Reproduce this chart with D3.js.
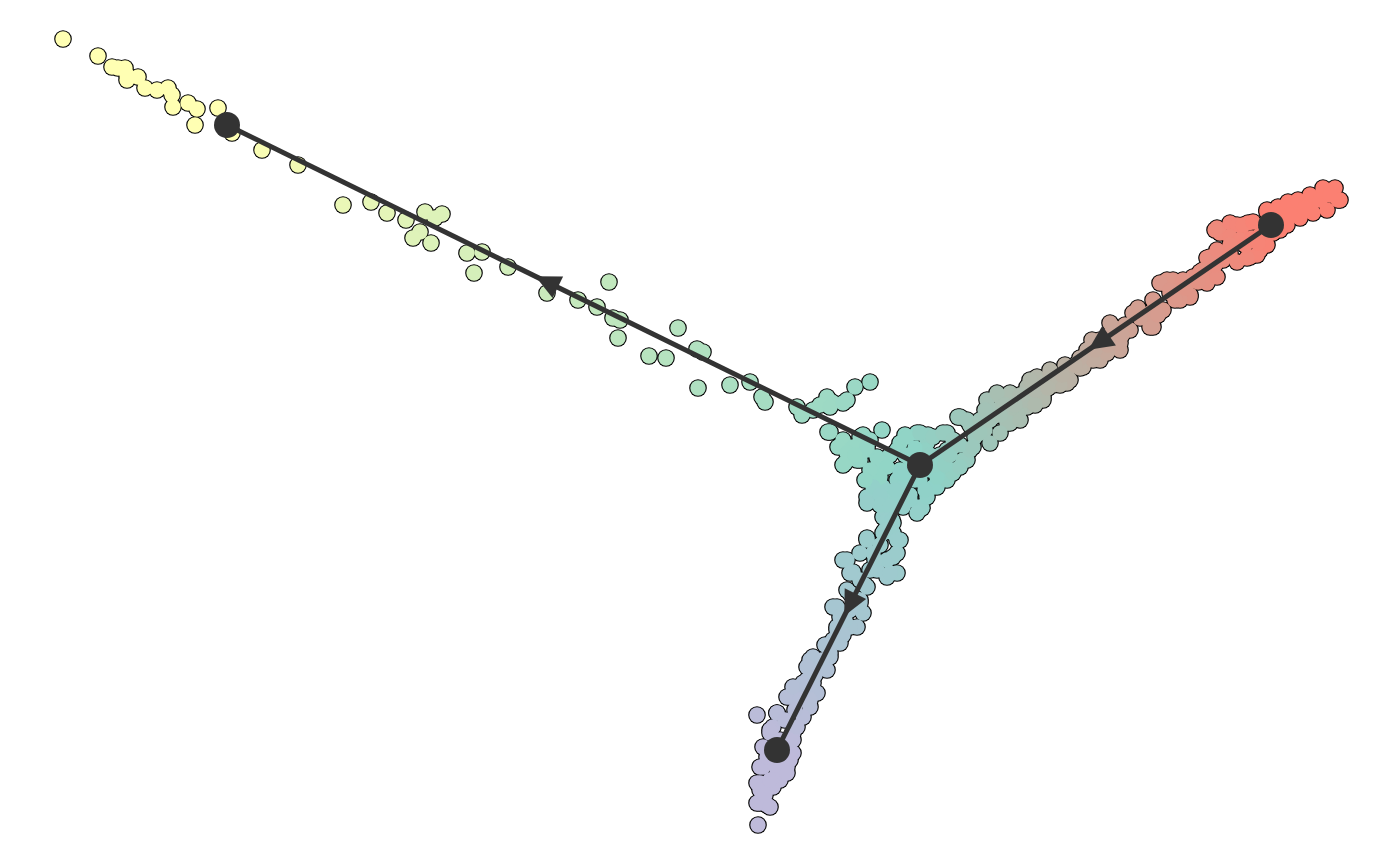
<!DOCTYPE html>
<head>
  <meta charset="utf-8">
  <script src="https://d3js.org/d3.v7.min.js"></script>
  <style>
    body { margin:0; background:#fff; }
  </style>
</head>
<body>
<script>

  var width = 1400;
  var height = 866;

  // cells in reduced space (comp_1, comp_2)
  var cells = [
    [0.63,8.27],[0.98,8.10],[1.12,7.99],[1.18,7.98],[1.25,7.98],[1.27,7.91],[1.38,7.89],[1.27,7.86],
    [1.45,7.78],[1.57,7.76],[1.68,7.78],[1.72,7.71],[1.73,7.59],[1.88,7.63],[1.97,7.57],[1.95,7.41],
    [2.18,7.58],[2.32,7.33],[2.62,7.16],[2.98,7.01],[3.43,6.61],[3.71,6.64],[3.87,6.53],[4.06,6.46],
    [4.25,6.54],[4.42,6.52],[4.35,6.48],[4.20,6.34],[4.13,6.28],[4.31,6.23],[4.67,6.13],[4.82,6.14],
    [4.74,5.93],[5.08,5.99],[6.09,5.84],[5.47,5.73],[5.78,5.66],[5.97,5.59],[6.13,5.48],[6.20,5.46],
    [6.18,5.28],[6.78,5.38],[6.49,5.10],[6.66,5.08],[6.97,5.17],[7.03,5.14],[6.98,4.78],[7.30,4.81],
    [7.50,4.84],[7.62,4.69],[7.65,4.64],[7.97,4.59],[8.02,4.51],[8.13,4.56],[8.27,4.69],[8.32,4.64],
    [8.47,4.66],[8.55,4.79],[8.70,4.84],[8.20,4.61],[8.28,4.34],[8.82,4.36],[8.63,4.31],
    [8.30,4.59],[8.43,4.63],[8.30,4.34],[8.43,4.26],[8.60,4.29],
    // around the branching point
    [8.43,4.01],[8.57,4.06],[8.38,4.19],[8.53,4.19],[8.67,4.16],[9.05,4.31],[9.17,4.33],[9.28,4.31],
    [9.27,4.23],[9.00,4.23],[8.97,4.16],[9.47,4.33],[9.53,4.19],[9.58,4.49],[9.70,4.41],[8.77,4.09],
    [8.82,3.99],[8.75,3.89],[8.83,3.79],[8.67,3.69],[8.97,3.86],[9.03,3.73],[9.33,3.79],[9.40,3.89],
    [9.53,3.96],[9.63,4.06],[9.22,3.58],[8.90,3.56],[8.85,3.49],[8.67,3.28],[8.93,3.33],[9.10,4.06],
    [9.30,3.96],[9.00,3.96],[9.15,3.86],[8.90,4.11],[9.40,4.11],[9.10,3.71],[9.25,4.16],
    [8.67,4.19],[8.47,4.13],[8.45,4.03],[8.60,4.06],[8.78,4.06],[9.07,4.29],[9.20,4.33],[9.33,4.29],
    [9.43,4.33],[9.53,4.26],[9.47,4.16],[9.60,4.49],[9.70,4.43],[9.80,4.36],[9.87,4.46],[9.93,4.56],
    [8.87,3.99],[8.80,3.89],[8.73,3.79],[8.87,3.69],[8.97,3.66],[8.83,3.49],[9.20,3.59],[9.27,3.69],
    [9.37,3.79],[9.47,3.86],[9.53,3.93],[9.37,3.89],[9.20,3.86],[9.03,3.79],[9.00,3.93],[9.67,4.06],
    [9.70,4.16],[9.60,3.99],
    [9.05,4.11],[9.15,4.18],[9.30,4.11],[9.35,4.01],[9.45,4.01],[9.05,3.91],[9.25,3.76],[9.10,3.66],
    [8.95,3.76],[8.80,3.71],[8.80,3.61],[9.15,3.96],[9.50,4.11],[9.60,4.21],[9.75,4.29],[9.85,4.36],
    [8.70,3.96],[8.65,3.86],[8.70,4.26],[8.55,4.11],
    // towards the start
    [9.87,4.66],[10.00,4.69],[10.07,4.56],[9.93,4.49],[9.80,4.33],[9.73,4.19],[9.90,4.23],[10.07,4.43],
    [10.17,4.49],[10.27,4.59],[10.33,4.73],[10.37,4.83],[10.53,4.81],[10.67,4.83],[10.20,4.56],[10.07,4.69],
    [10.27,4.66],[10.43,4.69],[10.37,4.89],[10.60,4.86],[10.50,4.96],[10.67,4.96],[10.83,4.99],[11.00,5.06],
    [10.87,5.16],[11.03,5.16],[11.20,5.16],[11.17,5.29],[11.10,5.43],[11.33,5.53],[11.50,5.39],[11.53,5.49],
    [11.63,5.56],[11.53,5.66],[11.63,5.83],[11.73,5.86],[11.87,5.83],[11.90,5.69],[12.00,5.89],[12.10,5.96],
    [12.07,6.08],[12.20,6.13],[12.37,6.04],[12.50,6.09],[12.60,6.16],[12.43,6.29],[12.17,6.38],[12.20,6.33],
    [12.30,6.43],[12.37,6.41],[12.48,6.43],[12.67,6.56],[12.83,6.46],[12.87,6.56],[12.97,6.63],[13.10,6.59],
    [13.20,6.69],[13.33,6.76],[13.40,6.66],[12.72,6.41],[13.00,6.54],[11.80,5.76],
    [12.15,6.36],[12.43,6.41],[12.53,6.44],[12.67,6.54],[12.78,6.59],[12.88,6.64],[12.98,6.66],[13.10,6.71],
    [13.23,6.78],[13.35,6.78],[13.38,6.66],[13.27,6.56],[13.13,6.53],[13.00,6.48],[12.87,6.41],[12.73,6.33],
    [12.30,6.29],[12.40,6.26],[12.67,6.21],[12.57,6.11],[12.47,6.08],[12.23,6.06],[12.10,6.09],[12.17,6.16],
    [12.30,6.13],[11.93,5.89],[11.83,5.86],[11.67,5.86],[11.60,5.83],[11.70,5.73],[11.90,5.71],[12.07,5.83],
    [12.17,5.89],[12.03,5.96],
    [11.50,5.53],[11.53,5.39],[11.13,5.39],[11.20,5.23],[11.07,5.13],[10.93,5.06],[11.00,5.26],[10.67,4.93],
    [10.70,4.86],[10.50,4.93],[10.37,4.86],[10.27,4.79],[10.40,4.73],[10.43,4.66],[10.23,4.66],[10.10,4.73],
    [9.97,4.73],[10.03,4.59],[10.17,4.53],[10.10,4.43],[10.00,4.33],[9.67,4.46],[9.80,4.46],
    [10.60,4.81],[10.80,4.98],[11.30,5.36],[11.80,5.66],[12.30,6.21],[10.35,4.61],[10.20,4.46],
    [9.90,4.46],[9.85,4.56],[10.05,4.61],[10.00,4.51],[10.20,4.71],[10.15,4.61],[10.35,4.76],[10.30,4.86],
    [10.50,4.86],[10.48,4.78],[10.65,5.01],[10.62,4.91],[10.80,5.08],[10.75,5.01],[10.95,5.16],[10.92,5.26],
    [11.10,5.31],[11.08,5.21],[11.25,5.41],[11.22,5.31],[11.40,5.48],[11.38,5.58],[11.55,5.61],[11.58,5.51],
    [11.70,5.76],[11.75,5.66],[11.85,5.78],[12.00,5.94],[11.98,5.84],[12.15,6.01],[12.45,6.21],[12.52,6.28],
    [12.60,6.31],[12.58,6.23],[12.90,6.51],[13.05,6.58],[13.20,6.66],[13.30,6.71],[12.80,6.36],
    // lower branch
    [8.67,3.63],[8.90,3.59],[9.03,3.59],[9.17,3.53],[8.87,3.46],[8.97,3.26],[8.93,3.09],[8.97,2.93],
    [8.87,2.89],[8.67,3.26],[8.73,3.13],[8.43,3.06],[8.53,2.94],[8.60,2.86],[8.47,2.76],[8.33,2.59],
    [8.60,2.66],[8.63,2.53],[8.57,2.39],[8.37,2.36],[8.40,2.23],[8.30,2.09],[8.10,2.06],[8.27,1.96],
    [8.07,1.86],[8.00,1.79],[8.17,1.73],[7.90,1.69],[8.10,1.59],[7.77,1.53],[7.57,1.51],[7.73,1.39],
    [7.93,1.33],[7.70,1.33],[7.63,1.19],[7.93,1.13],[7.77,1.09],[7.87,0.99],[7.60,0.99],[7.80,0.86],
    [7.60,0.83],[7.57,0.63],[7.67,0.61],[7.58,0.41],
    [8.60,3.13],[8.47,3.06],[8.50,2.93],[8.77,2.96],[8.90,2.93],[8.87,3.06],[8.97,3.13],[9.00,3.26],
    [8.83,3.33],[8.93,3.43],[8.67,2.79],[8.50,2.73],[8.37,2.59],[8.40,2.49],[8.60,2.63],[8.50,2.39],
    [8.37,2.39],[8.33,2.26],[8.30,2.13],[8.13,2.09],[8.07,1.99],[8.20,1.99],[8.03,1.83],[8.13,1.83],
    [8.07,1.73],
    [7.77,1.53],[7.87,1.69],[7.93,1.79],[8.07,1.79],[7.70,1.36],[7.93,1.26],[7.90,1.06],[7.63,0.99],
    [7.77,0.93],[7.87,0.93],[7.57,0.83],[7.73,0.79],[7.60,0.63],[7.70,0.59],[8.10,1.66],[8.03,1.49],
    [7.97,1.39],[7.60,0.76],[7.67,1.09],
    [8.92,3.46],[8.85,3.36],[8.80,3.21],[8.75,3.06],[8.70,2.96],[8.65,2.81],[8.55,2.68],[8.50,2.56],
    [8.45,2.46],[8.43,2.31],[8.25,2.21],[8.22,2.06],[8.15,1.91],[8.00,1.66],[7.95,1.56],[7.85,1.46],
    [7.80,1.26],[7.70,1.16],[7.75,1.01],[7.70,0.86],[7.65,0.71]
  ];

  var milestoneIds = ["M1", "M2", "M3", "M4"];
  var milestoneX = [12.71, 9.20, 2.27, 7.77];
  var milestoneY = [6.41, 4.01, 7.41, 1.16];
  var milestoneColors = ["#FB8072", "#8DD3C7", "#FFFFB3", "#BEBADA"];

  var edgeFrom = ["M1", "M2", "M2"];
  var edgeTo   = ["M2", "M3", "M4"];
  var arrowAt  = [0.52, 0.555, 0.53];

  var x = d3.scaleLinear().domain([0, 14]).range([0, width]);
  var y = d3.scaleLinear().domain([0, 8.66]).range([height, 0]);

  var svg = d3.select("body").append("svg")
    .attr("width", width)
    .attr("height", height);

  var ms = {};
  milestoneIds.forEach(function(id, i){
    ms[id] = { x: milestoneX[i], y: milestoneY[i], color: milestoneColors[i] };
  });

  var edges = edgeFrom.map(function(f, i){
    return { from: ms[f], to: ms[edgeTo[i]], at: arrowAt[i] };
  });

  // colour of a cell: project on nearest edge, blend milestone colours
  function cellColor(p){
    var best = null;
    edges.forEach(function(e){
      var ax = x(e.from.x), ay = y(e.from.y), bx = x(e.to.x), by = y(e.to.y);
      var px = x(p[0]), py = y(p[1]);
      var dx = bx - ax, dy = by - ay;
      var t = ((px - ax) * dx + (py - ay) * dy) / (dx * dx + dy * dy);
      t = Math.max(0, Math.min(1, t));
      var qx = ax + t * dx, qy = ay + t * dy;
      var d = Math.hypot(px - qx, py - qy);
      if (!best || d < best.d) best = { d: d, t: t, e: e };
    });
    return d3.interpolateRgb(best.e.from.color, best.e.to.color)(best.t);
  }

  var cellsG = svg.append("g").attr("class", "cells");

  // black layer first so touching cells merge into one outline
  cellsG.selectAll(".outline")
    .data(cells)
    .enter()
    .append("circle")
    .attr("class", "outline")
    .attr("cx", function(d){ return x(d[0]); })
    .attr("cy", function(d){ return y(d[1]); })
    .attr("r", 8.8)
    .attr("fill", "#000");

  cellsG.selectAll(".cell")
    .data(cells)
    .enter()
    .append("circle")
    .attr("class", "cell")
    .attr("cx", function(d){ return x(d[0]); })
    .attr("cy", function(d){ return y(d[1]); })
    .attr("r", 7.7)
    .attr("fill", cellColor);

  var trajG = svg.append("g").attr("class", "trajectory");

  trajG.selectAll(".edge")
    .data(edges)
    .enter()
    .append("line")
    .attr("class", "edge")
    .attr("x1", function(d){ return x(d.from.x); })
    .attr("y1", function(d){ return y(d.from.y); })
    .attr("x2", function(d){ return x(d.to.x); })
    .attr("y2", function(d){ return y(d.to.y); })
    .attr("stroke", "#333333")
    .attr("stroke-width", 5);

  // arrow heads pointing along the direction of the edge
  trajG.selectAll(".arrow")
    .data(edges)
    .enter()
    .append("path")
    .attr("class", "arrow")
    .attr("d", "M0,0 L-25,-12 L-25,12 Z")
    .attr("fill", "#333333")
    .attr("transform", function(d){
      var ax = x(d.from.x), ay = y(d.from.y), bx = x(d.to.x), by = y(d.to.y);
      var tx = ax + (bx - ax) * d.at, ty = ay + (by - ay) * d.at;
      var ang = Math.atan2(by - ay, bx - ax) * 180 / Math.PI;
      return "translate(" + tx + "," + ty + ") rotate(" + ang + ")";
    });

  trajG.selectAll(".milestone")
    .data(milestoneIds)
    .enter()
    .append("circle")
    .attr("class", "milestone")
    .attr("cx", function(d){ return x(ms[d].x); })
    .attr("cy", function(d){ return y(ms[d].y); })
    .attr("r", 13)
    .attr("fill", "#333333");

</script>
</body>
